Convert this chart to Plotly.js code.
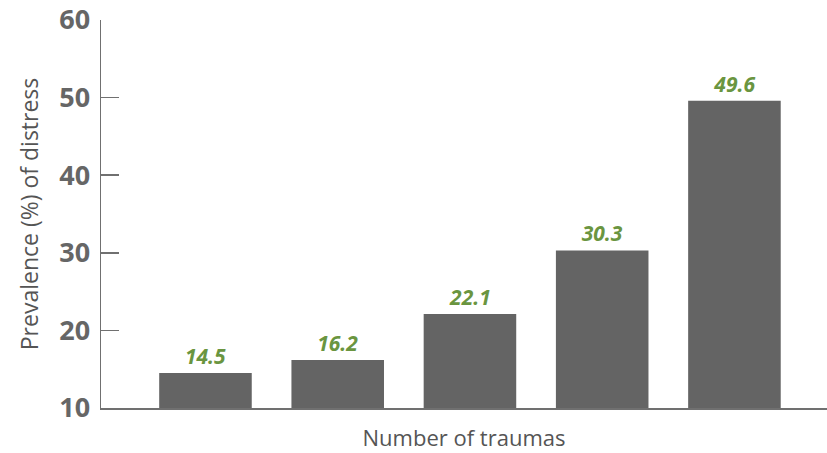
<!DOCTYPE html>
<html>
<head>
<meta charset="utf-8">
<script src="https://cdn.plot.ly/plotly-3.0.1.min.js"></script>
<style>html,body{margin:0;padding:0;background:#fff;}#chart{width:827px;height:453px;}</style>
</head>
<body>
<div id="chart"></div>
<script>
var categories = ['0', '1', '2', '3', '≥4'];
var prevalence = [14.5, 16.2, 22.1, 30.3, 49.6];
var labels = ['14.5', '16.2', '22.1', '30.3', '49.6'];
var yTicks = [10, 20, 30, 40, 50, 60];

var trace = {
  type: 'bar',
  x: [0, 1, 2, 3, 4],
  y: prevalence,
  width: 0.7,
  text: labels,
  textposition: 'outside',
  cliponaxis: false,
  textfont: {family: 'Open Sans, sans-serif', size: 21, color: '#6a9540', weight: 'bold', style: 'italic'},
  marker: {color: '#646464'},
  hoverinfo: 'skip'
};

var layout = {
  width: 827, height: 453,
  margin: {l: 101, r: 0, t: 20, b: 45},
  paper_bgcolor: '#fff', plot_bgcolor: '#fff',
  showlegend: false,
  bargap: 0.3,
  xaxis: {
    range: [-0.79, 4.7],
    showticklabels: false, ticks: '', showgrid: false, zeroline: false,
    showline: true, linecolor: '#707070', linewidth: 1.5,
    title: {text: 'Number of traumas', font: {family: 'Open Sans, sans-serif', size: 22, color: '#555'}, standoff: 22}
  },
  yaxis: {
    range: [10, 60],
    tickvals: yTicks,
    ticks: 'inside', ticklen: 18, tickcolor: '#707070', tickwidth: 1.5,
    tickfont: {family: 'Open Sans, sans-serif', size: 27, color: '#666', weight: 'bold'},
    ticklabelstandoff: 4,
    showgrid: false, zeroline: false,
    showline: true, linecolor: '#707070', linewidth: 1.5,
    title: {text: 'Prevalence (%) of distress', font: {family: 'Open Sans, sans-serif', size: 23, color: '#555'}, standoff: 14}
  }
};

Plotly.newPlot('chart', [trace], layout, {displayModeBar: false, staticPlot: true});
</script>
</body>
</html>
